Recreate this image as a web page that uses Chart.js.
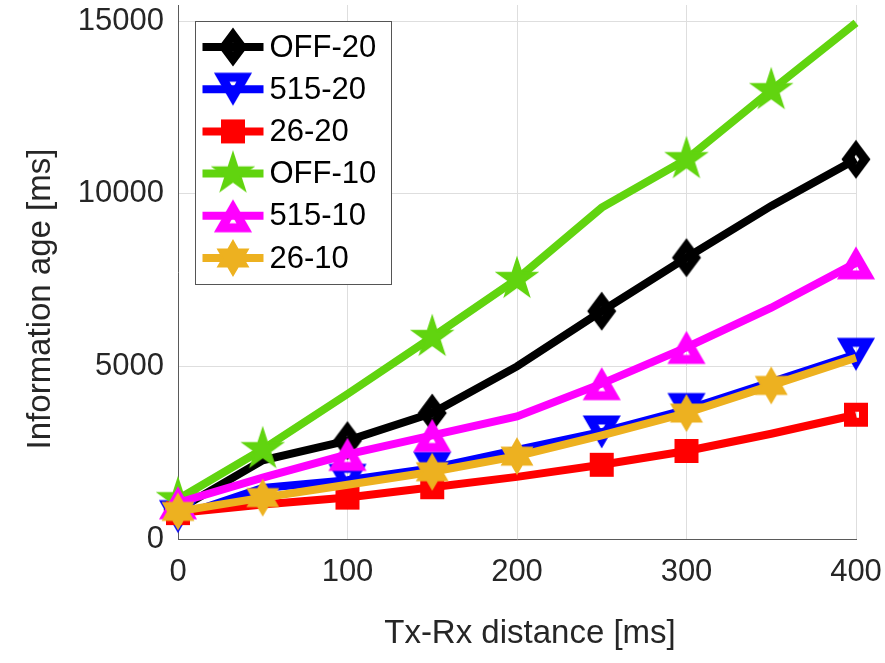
<!DOCTYPE html>
<html>
<head>
<meta charset="utf-8">
<script src="https://cdn.jsdelivr.net/npm/chart.js@4.4.1/dist/chart.umd.min.js"></script>
<style>
html,body{margin:0;padding:0;background:#ffffff;}
#wrap{width:885px;height:663px;position:relative;}
</style>
</head>
<body>
<div id="wrap"><canvas id="c" width="885" height="663"></canvas></div>
<script>
// ---- data ----
const distances = [0, 50, 100, 150, 200, 250, 300, 350, 400];
const off20  = [850, 2280, 2850, 3650, 5000, 6600, 8150, 9650, 11000];
const s515_20 = [650, 1480, 1700, 2050, 2580, 3100, 3750, 4550, 5350];
const s26_20  = [750, 1000, 1200, 1500, 1800, 2150, 2550, 3050, 3600];
const off10  = [1150, 2600, 4200, 5850, 7530, 9600, 11000, 13000, 14950];
const s515_10 = [1050, 1780, 2450, 3000, 3550, 4500, 5550, 6700, 8000];
const s26_10  = [800, 1200, 1570, 1950, 2400, 3000, 3650, 4450, 5250];
const seriesNames = ['OFF-20', '515-20', '26-20', 'OFF-10', '515-10', '26-10'];
const xTicks = [0, 100, 200, 300, 400];
const yTicks = [0, 5000, 10000, 15000];
const xTitle = 'Tx-Rx distance [ms]';
const yTitle = 'Information age [ms]';

// ---- styles ----
const FONT = "'Liberation Sans', Arial, Helvetica, sans-serif";
const colors = ['#000000', '#0000FF', '#FF0000', '#61D40F', '#FF00FF', '#EDB120'];
const markerTypes = ['diamond', 'triDown', 'square', 'pentagram', 'triUp', 'hexagram'];
const markerIdxA = [0, 2, 3, 5, 6, 8];
const markerIdxB = [0, 1, 3, 4, 6, 7];
const markerIdx = [markerIdxA, markerIdxA, markerIdxA, markerIdxB, markerIdxA, markerIdxB];

function makeMarker(type, color) {
  const s = 60;
  const c = document.createElement('canvas');
  c.width = s; c.height = s;
  const g = c.getContext('2d');
  g.translate(s / 2, s / 2);
  g.strokeStyle = color;
  g.fillStyle = color;
  g.lineJoin = 'miter';
  g.miterLimit = 10;
  g.beginPath();
  if (type === 'diamond') {
    g.moveTo(0, -11.9); g.lineTo(8.9, 0); g.lineTo(0, 11.9); g.lineTo(-8.9, 0); g.closePath();
    g.lineWidth = 9; g.stroke();
  } else if (type === 'square') {
    g.rect(-7.5, -7.5, 15, 15);
    g.lineWidth = 9; g.stroke();
  } else if (type === 'triDown') {
    const ri = 6.5, hs = ri * Math.sqrt(3), cy = -5.5;
    g.moveTo(-hs, cy - ri); g.lineTo(hs, cy - ri); g.lineTo(0, cy + 2 * ri); g.closePath();
    g.lineWidth = 9; g.stroke();
  } else if (type === 'triUp') {
    const ri = 6.5, hs = ri * Math.sqrt(3), cy = 5.5;
    g.moveTo(-hs, cy + ri); g.lineTo(hs, cy + ri); g.lineTo(0, cy - 2 * ri); g.closePath();
    g.lineWidth = 9; g.stroke();
  } else if (type === 'pentagram') {
    const R = 21, r = R * 0.382;
    for (let k = 0; k < 10; k++) {
      const a = (-90 + k * 36) * Math.PI / 180;
      const rr = k % 2 === 0 ? R : r;
      const x = Math.cos(a) * rr, y = Math.sin(a) * rr;
      if (k === 0) g.moveTo(x, y); else g.lineTo(x, y);
    }
    g.closePath(); g.fill();
    g.lineWidth = 1.5; g.stroke();
  } else if (type === 'hexagram') {
    const R = 17.5, r = R / Math.sqrt(3);
    for (let k = 0; k < 12; k++) {
      const a = (-90 + k * 30) * Math.PI / 180;
      const rr = k % 2 === 0 ? R : r;
      const x = Math.cos(a) * rr, y = Math.sin(a) * rr;
      if (k === 0) g.moveTo(x, y); else g.lineTo(x, y);
    }
    g.closePath(); g.fill();
    g.lineWidth = 1.5; g.stroke();
  }
  return c;
}

const markers = markerTypes.map((t, i) => makeMarker(t, colors[i]));
const seriesValues = [off20, s515_20, s26_20, off10, s515_10, s26_10];

const datasets = seriesValues.map((vals, i) => ({
  label: seriesNames[i],
  data: distances.map((d, j) => ({ x: d, y: vals[j] })),
  borderColor: colors[i],
  backgroundColor: colors[i],
  borderWidth: 8,
  tension: 0,
  fill: false,
  clip: false,
  order: seriesValues.length - 1 - i,
  pointStyle: markers[i],
  pointRadius: (ctx) => markerIdx[i].includes(ctx.dataIndex) ? 15 : 0,
  pointHoverRadius: 0,
  pointHitRadius: 0
}));

// Legend + axis titles drawn on top
const overlayPlugin = {
  id: 'overlay',
  afterDraw(chart) {
    const ctx = chart.ctx;
    const area = chart.chartArea;
    ctx.save();
    // axis titles
    ctx.fillStyle = '#262626';
    ctx.font = '33px ' + FONT;
    ctx.textAlign = 'center';
    ctx.textBaseline = 'alphabetic';
    ctx.fillText(xTitle, 530, 643);
    ctx.save();
    ctx.translate(50, 299);
    ctx.rotate(-Math.PI / 2);
    ctx.fillText(yTitle, 0, 0);
    ctx.restore();

    // legend
    const lx = area.left + 17.5, ly = area.top + 16.5, lw = 196, lh = 263;
    ctx.fillStyle = '#ffffff';
    ctx.fillRect(lx, ly, lw, lh);
    ctx.strokeStyle = '#555555';
    ctx.lineWidth = 1;
    ctx.strokeRect(lx, ly, lw, lh);
    ctx.font = '31px ' + FONT;
    ctx.textAlign = 'left';
    ctx.textBaseline = 'middle';
    chart.data.datasets.forEach((ds, i) => {
      const y = ly + 25.5 + i * 42.2;
      ctx.strokeStyle = ds.borderColor;
      ctx.lineWidth = 8;
      ctx.beginPath();
      ctx.moveTo(lx + 7, y);
      ctx.lineTo(lx + 68, y);
      ctx.stroke();
      const m = markers[i];
      ctx.drawImage(m, lx + 37.5 - m.width / 2, y - m.height / 2);
      ctx.fillStyle = '#000000';
      ctx.fillText(ds.label, lx + 74, y + 1);
    });
    ctx.restore();
  }
};

function zeroPad(scale) {
  scale.paddingLeft = 0; scale.paddingRight = 0;
  scale.paddingTop = 0; scale.paddingBottom = 0;
}

new Chart(document.getElementById('c'), {
  type: 'line',
  data: { datasets },
  options: {
    responsive: false,
    animation: false,
    events: [],
    layout: { autoPadding: false, padding: { top: 5, right: 29, left: 0, bottom: 0 } },
    plugins: { legend: { display: false }, tooltip: { enabled: false } },
    scales: {
      x: {
        type: 'linear',
        min: 0,
        max: 400,
        afterBuildTicks: (scale) => { scale.ticks = xTicks.map(v => ({ value: v })); },
        afterFit: (scale) => { scale.height = 124; zeroPad(scale); },
        grid: { color: '#dedede', lineWidth: 1, drawTicks: false },
        border: { display: true, color: '#5a5a5a', width: 1 },
        ticks: {
          font: { size: 31, family: FONT }, color: '#262626', padding: 15,
          maxRotation: 0, autoSkip: false, callback: (v) => String(v)
        }
      },
      y: {
        type: 'linear',
        min: 0,
        max: 15470,
        afterBuildTicks: (scale) => { scale.ticks = yTicks.map(v => ({ value: v })); },
        afterFit: (scale) => { scale.width = 178; zeroPad(scale); },
        grid: { color: '#dedede', lineWidth: 1, drawTicks: false },
        border: { display: true, color: '#5a5a5a', width: 1 },
        ticks: {
          font: { size: 31, family: FONT }, color: '#262626', padding: 14,
          autoSkip: false, callback: (v) => String(v)
        }
      }
    }
  },
  plugins: [overlayPlugin]
});
</script>
</body>
</html>
